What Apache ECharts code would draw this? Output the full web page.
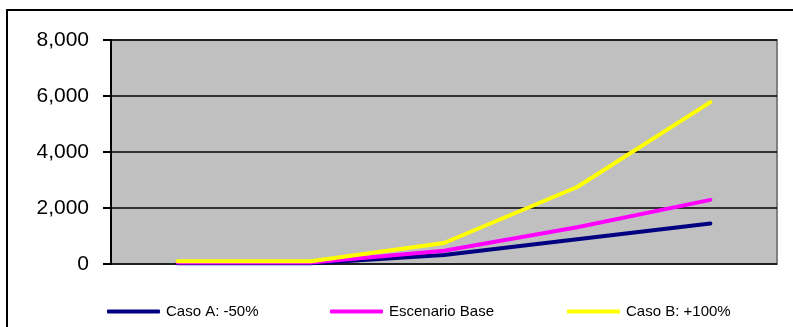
<!DOCTYPE html>
<html>
<head>
<meta charset="utf-8">
<script src="https://cdn.jsdelivr.net/npm/echarts@6/dist/echarts.min.js"></script>
<style>
  html, body { margin: 0; padding: 0; background: #ffffff; }
  #chart { width: 793px; height: 327px; }
</style>
</head>
<body>
<div id="chart"></div>
<script>
// Five periods along the horizontal axis (no labels shown)
const categories = ['1', '2', '3', '4', '5'];

// Scenario series
const casoA = [25, 25, 320, 880, 1450];
const escenarioBase = [50, 50, 475, 1310, 2290];
const casoB = [100, 100, 750, 2750, 5780];

const seriesNames = ['Caso A: -50%', 'Escenario Base', 'Caso B: +100%'];
const seriesColors = ['#000080', '#FF00FF', '#FFFF00'];
const seriesData = [casoA, escenarioBase, casoB];

// Value axis ticks
const yMin = 0, yMax = 8000, yStep = 2000;

const font = 'Arial, "Liberation Sans", sans-serif';

const legendLefts = [107, 330, 567];

const chart = echarts.init(document.getElementById('chart'), null, { renderer: 'canvas' });

chart.setOption({
  animation: false,
  backgroundColor: '#ffffff',
  graphic: [{
    type: 'rect',
    shape: { x: 7, y: 10, width: 800, height: 330 },
    style: { fill: 'none', stroke: '#000000', lineWidth: 2 },
    z: 100
  }],
  grid: {
    left: 111, right: 16, top: 40, bottom: 63,
    show: true,
    backgroundColor: '#C0C0C0',
    borderColor: '#808080',
    borderWidth: 2
  },
  xAxis: {
    type: 'category',
    data: categories,
    boundaryGap: true,
    axisLine: { show: false },
    axisTick: { show: false },
    axisLabel: { show: false },
    splitLine: { show: false }
  },
  yAxis: {
    type: 'value',
    min: yMin, max: yMax, interval: yStep,
    axisLine: { show: true, lineStyle: { color: '#000000', width: 2 } },
    axisTick: { show: true, length: 8, lineStyle: { color: '#000000', width: 2 } },
    axisLabel: {
      color: '#000000', fontFamily: font, fontSize: 21, margin: 22,
      formatter: v => v.toLocaleString('en-US')
    },
    splitLine: { show: true, lineStyle: { color: '#000000', width: 1.5 } }
  },
  legend: seriesNames.map((name, i) => ({
    data: [name],
    left: legendLefts[i],
    top: 304,
    padding: 0,
    icon: 'roundRect',
    itemWidth: 53,
    itemHeight: 4,
    itemGap: 0,
    textStyle: { color: '#000000', fontFamily: font, fontSize: 15, padding: [0, 0, 0, 1] }
  })),
  series: seriesNames.map((name, i) => ({
    name: name,
    type: 'line',
    data: seriesData[i],
    symbol: 'none',
    lineStyle: { color: seriesColors[i], width: 4, cap: 'round', join: 'round' },
    itemStyle: { color: seriesColors[i] },
    z: 2 + i
  }))
});
</script>
</body>
</html>
